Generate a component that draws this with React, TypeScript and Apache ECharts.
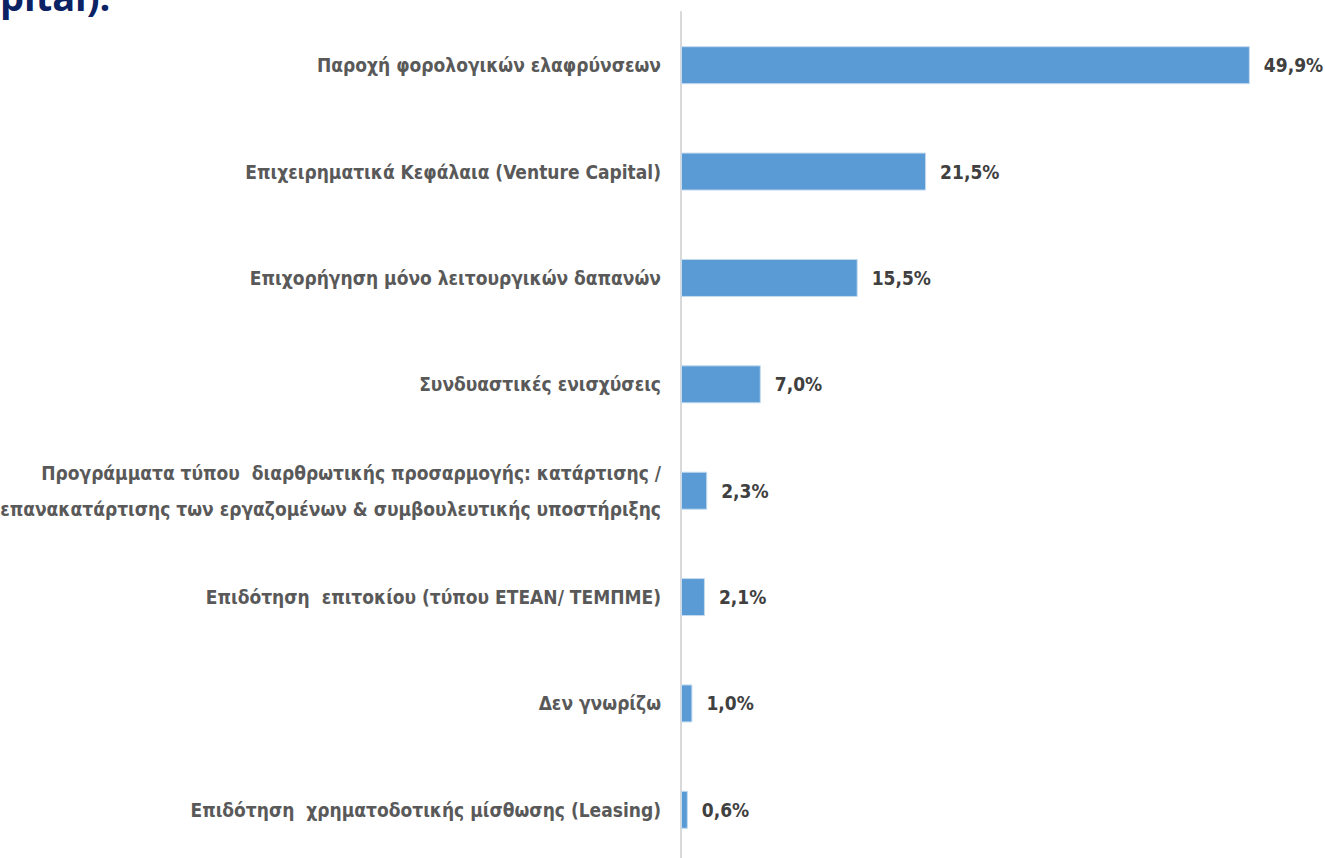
import React, { useEffect, useRef } from "react";
import * as echarts from "echarts";

const categories = [
  "Παροχή φορολογικών ελαφρύνσεων",
  "Επιχειρηματικά Κεφάλαια (Venture Capital)",
  "Επιχορήγηση μόνο λειτουργικών δαπανών",
  "Συνδυαστικές ενισχύσεις",
  "Προγράμματα τύπου  διαρθρωτικής προσαρμογής: κατάρτισης /\nεπανακατάρτισης των εργαζομένων & συμβουλευτικής υποστήριξης",
  "Επιδότηση  επιτοκίου (τύπου ΕΤΕΑΝ/ ΤΕΜΠΜΕ)",
  "Δεν γνωρίζω",
  "Επιδότηση  χρηματοδοτικής μίσθωσης (Leasing)",
];
const values = [49.9, 21.5, 15.5, 7.0, 2.3, 2.1, 1.0, 0.6];
const titleFragment = "pital).";

const FONT = "'DejaVu Sans Condensed', 'Open Sans', sans-serif";

export default function App() {
  const ref = useRef<HTMLDivElement>(null);
  useEffect(() => {
    if (!ref.current) return;
    const chart = echarts.init(ref.current, null, { renderer: "svg" });
    chart.setOption({
      animation: false,
      backgroundColor: "#ffffff",
      grid: {
        left: 681,
        right: 17,
        top: 12,
        bottom: -5,
        containLabel: false,
        outerBoundsMode: "none",
      },
      xAxis: {
        type: "value",
        min: 0,
        max: 55,
        show: false,
      },
      yAxis: {
        type: "category",
        inverse: true,
        data: categories,
        axisLine: { show: true, lineStyle: { color: "#d9d9d9", width: 2 } },
        axisTick: { show: false },
        axisLabel: {
          margin: 20,
          color: "#595959",
          fontFamily: FONT,
          fontWeight: "bold",
          fontSize: 19,
          lineHeight: 36,
          align: "right",
        },
      },
      series: [
        {
          type: "bar",
          data: values,
          barWidth: 38,
          itemStyle: { color: "#5b9bd5", borderColor: "#c5dbef", borderWidth: 1 },
          label: {
            show: true,
            position: "right",
            distance: 14,
            color: "#404040",
            fontFamily: FONT,
            fontWeight: "bold",
            fontSize: 19,
            formatter: (p: any) => p.value.toFixed(1).replace(".", ",") + "%",
          },
        },
      ],
      graphic: [
        {
          type: "text",
          x: 0,
          y: 15,
          style: {
            text: titleFragment,
            fill: "#0b2265",
            font: "bold 38px 'Open Sans', sans-serif",
            textAlign: "left",
            textVerticalAlign: "bottom",
          },
        },
      ],
    });
    return () => chart.dispose();
  }, []);
  return (
    <div
      ref={ref}
      style={{ position: "absolute", left: 0, top: 0, width: 1325, height: 858 }}
    />
  );
}
